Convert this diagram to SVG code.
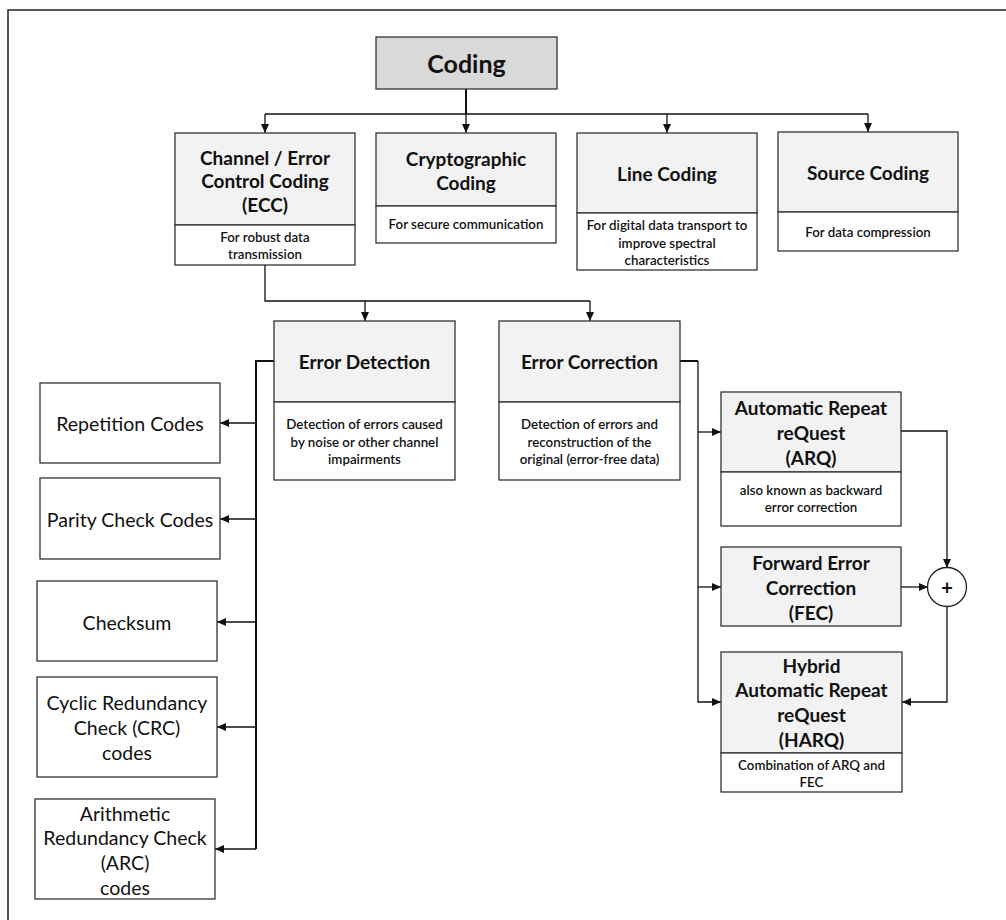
<svg xmlns="http://www.w3.org/2000/svg" width="1006" height="920" viewBox="0 0 1006 920">
  <style>
    .frame { fill: none; stroke: #222; stroke-width: 1.5; }
    .box { fill: #ffffff; stroke: #333; stroke-width: 1.3; }
    .head { fill: #f2f2f2; stroke: #333; stroke-width: 1.3; }
    .root { fill: #d9d9d9; stroke: #333; stroke-width: 1.3; }
    .wire { fill: none; stroke: #111; stroke-width: 1.3; }
    .thick { stroke-width: 2; }
    .arr { marker-end: url(#tip); }
    text { font-family: Lato, "Liberation Sans", sans-serif; fill: #111; text-anchor: middle; dominant-baseline: central; }
    .title { font-size: 19px; font-weight: 700; }
    .big { font-size: 25px; font-weight: 700; }
    .sub { font-size: 13.3px; font-weight: 600; }
    .plain { font-size: 19.5px; font-weight: 400; }
  </style>
  <defs>
    <marker id="tip" markerUnits="userSpaceOnUse" markerWidth="10" markerHeight="10" refX="9" refY="4" orient="auto">
      <path d="M0,0 L9,4 L0,8 z" fill="#111"/>
    </marker>
  </defs>

  <rect width="1006" height="920" fill="#ffffff"/>
  <rect class="frame" x="8" y="10" width="1010" height="930"/>

  <!-- connectors -->
  <g id="connectors">
    <path class="wire thick" d="M466,89 V114"/>
    <path class="wire" d="M265,114 H868"/>
    <path class="wire arr" d="M265,114 V133"/>
    <path class="wire arr" d="M466,114 V133"/>
    <path class="wire arr" d="M667,114 V133"/>
    <path class="wire arr" d="M868,114 V132"/>

    <path class="wire" d="M265,265 V301 H590"/>
    <path class="wire arr" d="M365,301 V321"/>
    <path class="wire arr" d="M590,301 V321"/>

    <path class="wire thick" d="M274,361 H256 V849"/>
    <path class="wire arr" d="M256,423 H220"/>
    <path class="wire arr" d="M256,519 H220"/>
    <path class="wire arr" d="M256,622 H217"/>
    <path class="wire arr" d="M256,727 H217"/>
    <path class="wire arr" d="M256,849 H215"/>

    <path class="wire thick" d="M680,361 H698"/>
    <path class="wire arr" d="M698,361 V702 H721"/>
    <path class="wire arr" d="M698,432 H721"/>
    <path class="wire arr" d="M698,587 H721"/>

    <path class="wire arr" d="M901,431 H947 V568"/>
    <path class="wire arr" d="M901,587 H928"/>
    <path class="wire arr" d="M947,606 V702 H902"/>
  </g>

  <g id="coding">
    <rect class="root" x="376" y="37" width="181" height="52"/>
    <text class="big" x="466.5" y="63">Coding</text>
  </g>

  <g id="ecc">
    <rect class="head" x="175" y="133" width="180" height="92"/>
    <rect class="box" x="175" y="225" width="180" height="40"/>
    <text class="title" x="265" y="157">Channel / Error</text>
    <text class="title" x="265" y="180">Control Coding</text>
    <text class="title" x="265" y="204">(ECC)</text>
    <text class="sub" x="265" y="237">For robust data</text>
    <text class="sub" x="265" y="254">transmission</text>
  </g>

  <g id="cryptographic">
    <rect class="head" x="376" y="133" width="180" height="73"/>
    <rect class="box" x="376" y="206" width="180" height="37"/>
    <text class="title" x="466" y="158">Cryptographic</text>
    <text class="title" x="466" y="182">Coding</text>
    <text class="sub" x="466" y="224">For secure communication</text>
  </g>

  <g id="line-coding">
    <rect class="head" x="577" y="133" width="180" height="80"/>
    <rect class="box" x="577" y="213" width="180" height="57"/>
    <text class="title" x="667" y="173">Line Coding</text>
    <text class="sub" x="667" y="225">For digital data transport to</text>
    <text class="sub" x="667" y="243">improve spectral</text>
    <text class="sub" x="667" y="260">characteristics</text>
  </g>

  <g id="source-coding">
    <rect class="head" x="778" y="132" width="180" height="80"/>
    <rect class="box" x="778" y="212" width="180" height="39"/>
    <text class="title" x="868" y="172">Source Coding</text>
    <text class="sub" x="868" y="232">For data compression</text>
  </g>

  <g id="error-detection">
    <rect class="head" x="274" y="321" width="181" height="81"/>
    <rect class="box" x="274" y="402" width="181" height="78"/>
    <text class="title" x="364.5" y="361">Error Detection</text>
    <text class="sub" x="364.5" y="424">Detection of errors caused</text>
    <text class="sub" x="364.5" y="442">by noise or other channel</text>
    <text class="sub" x="364.5" y="459">impairments</text>
  </g>

  <g id="error-correction">
    <rect class="head" x="499" y="321" width="181" height="81"/>
    <rect class="box" x="499" y="402" width="181" height="78"/>
    <text class="title" x="589.5" y="361">Error Correction</text>
    <text class="sub" x="589.5" y="424">Detection of errors and</text>
    <text class="sub" x="589.5" y="442">reconstruction of the</text>
    <text class="sub" x="589.5" y="459">original (error-free data)</text>
  </g>

  <g id="repetition-codes">
    <rect class="box" x="40" y="383" width="180" height="80"/>
    <text class="plain" x="130" y="423">Repetition Codes</text>
  </g>

  <g id="parity-check-codes">
    <rect class="box" x="40" y="478" width="180" height="81"/>
    <text class="plain" x="130" y="519">Parity Check Codes</text>
  </g>

  <g id="checksum">
    <rect class="box" x="37" y="581" width="180" height="80"/>
    <text class="plain" x="127" y="622">Checksum</text>
  </g>

  <g id="crc">
    <rect class="box" x="37" y="677" width="180" height="100"/>
    <text class="plain" x="127" y="702">Cyclic Redundancy</text>
    <text class="plain" x="127" y="727">Check (CRC)</text>
    <text class="plain" x="127" y="752">codes</text>
  </g>

  <g id="arc">
    <rect class="box" x="35" y="799" width="180" height="100"/>
    <text class="plain" x="125" y="813">Arithmetic</text>
    <text class="plain" x="125" y="837">Redundancy Check</text>
    <text class="plain" x="125" y="862">(ARC)</text>
    <text class="plain" x="125" y="887">codes</text>
  </g>

  <g id="arq">
    <rect class="head" x="721" y="392" width="180" height="80"/>
    <rect class="box" x="721" y="472" width="180" height="54"/>
    <text class="title" x="811" y="407">Automatic Repeat</text>
    <text class="title" x="811" y="432">reQuest</text>
    <text class="title" x="811" y="457">(ARQ)</text>
    <text class="sub" x="811" y="490">also known as backward</text>
    <text class="sub" x="811" y="507">error correction</text>
  </g>

  <g id="fec">
    <rect class="head" x="721" y="547" width="180" height="79"/>
    <text class="title" x="811" y="562">Forward Error</text>
    <text class="title" x="811" y="587">Correction</text>
    <text class="title" x="811" y="612">(FEC)</text>
  </g>

  <g id="harq">
    <rect class="head" x="721" y="652" width="181" height="101"/>
    <rect class="box" x="721" y="753" width="181" height="39"/>
    <text class="title" x="811.5" y="665">Hybrid</text>
    <text class="title" x="811.5" y="689">Automatic Repeat</text>
    <text class="title" x="811.5" y="714">reQuest</text>
    <text class="title" x="811.5" y="739">(HARQ)</text>
    <text class="sub" x="811.5" y="765">Combination of ARQ and</text>
    <text class="sub" x="811.5" y="782">FEC</text>
  </g>

  <g id="combiner">
    <circle cx="947" cy="587" r="19.5" fill="#ffffff" stroke="#222" stroke-width="1.3"/>
    <text x="947" y="587" style="font-size:20px;font-weight:700">+</text>
  </g>
</svg>
